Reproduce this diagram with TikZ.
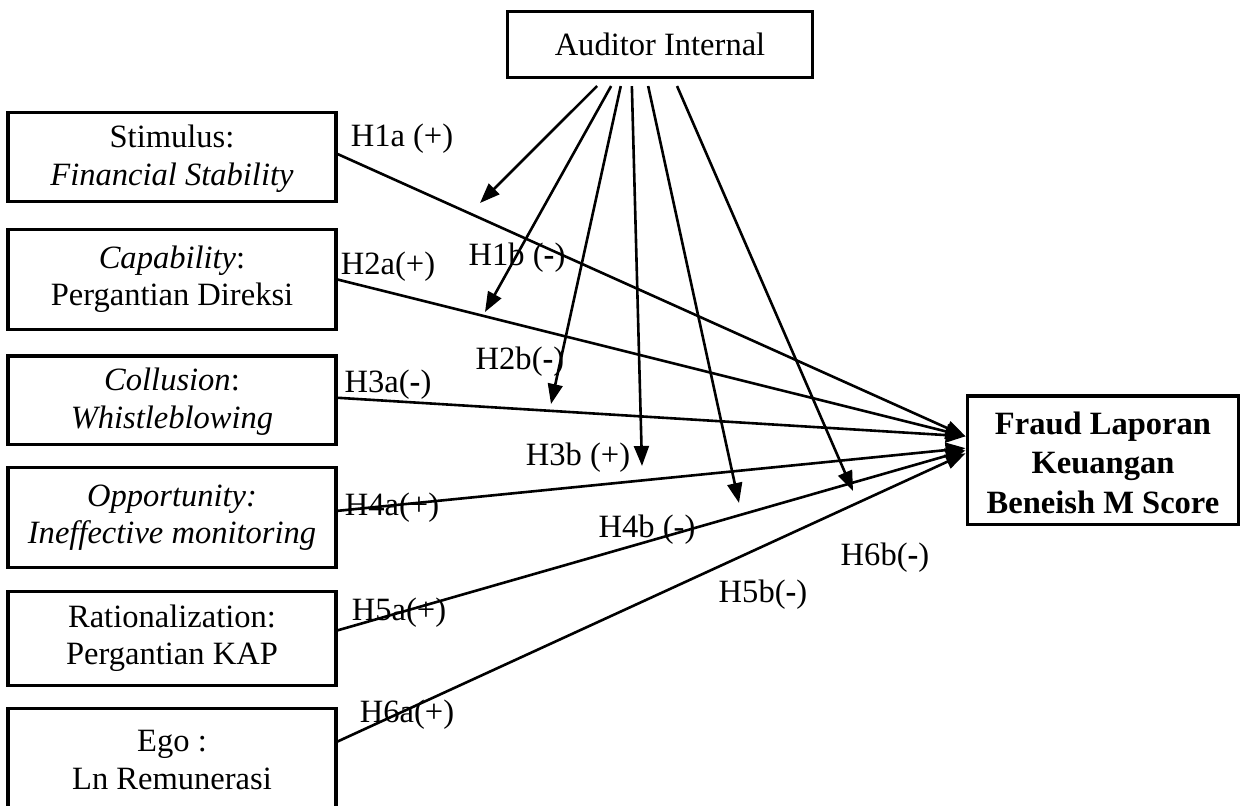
\documentclass[tikz,border=0pt]{standalone}
\usepackage{fontspec}
\setmainfont{Liberation Serif}
\usetikzlibrary{arrows.meta,positioning}

\begin{document}
\begin{tikzpicture}[
    x=0.0135cm, y=-0.0135cm,
    box/.style={draw, line width=1.2pt, minimum width=4.43cm, align=center, font=\fontsize{12.5}{14.3}\selectfont, inner sep=2pt},
    arr/.style={-{Triangle[length=0.27cm,width=0.2cm]}, line width=1pt},
    lbl/.style={font=\fontsize{12.5}{14}\selectfont, inner sep=0pt}
]
\useasboundingbox (0,0) rectangle (1241,806);

% variables
\node[box, minimum width=4.13cm, minimum height=0.88cm] (aud) at (660,44.5) {Auditor Internal};
\node[box, minimum height=1.19cm] (stim) at (172,157) {\strut Stimulus:\\\textit{Financial Stability}};
\node[box, minimum height=1.36cm] (capa) at (172,279.5) {\textit{Capability}:\\Pergantian Direksi};
\node[box, minimum height=1.19cm] (coll) at (172,400) {\strut\textit{Collusion}:\\\textit{Whistleblowing}};
\node[box, minimum height=1.34cm] (oppo) at (172,517.5) {\textit{Opportunity:}\\\textit{Ineffective monitoring}};
\node[box, minimum height=1.28cm] (rati) at (172,638.5) {Rationalization:\\Pergantian KAP};
\node[box, minimum height=1.40cm] (ego) at (172,760) {Ego :\\Ln Remunerasi};
\node[box, minimum width=3.67cm, minimum height=1.73cm, font=\fontsize{12.5}{15.2}\selectfont\bfseries] (fraud) at (1103,460) {\strut Fraud Laporan\\Keuangan\\Beneish M Score};

% direct effects
\draw[arr] ([yshift=0.04cm]stim.east) -- ([yshift=0.32cm]fraud.west);
\draw[arr] (capa.east) -- ([yshift=0.32cm]fraud.west);
\draw[arr] ([yshift=0.03cm]coll.east) -- ([yshift=0.32cm]fraud.west);
\draw[arr] ([yshift=0.09cm]oppo.east) -- ([yshift=0.16cm]fraud.west);
\draw[arr] ([yshift=0.11cm]rati.east) -- ([yshift=0.13cm]fraud.west);
\draw[arr] ([yshift=0.25cm]ego.east) -- ([yshift=0.09cm]fraud.west);

% moderation
\coordinate (m1) at (480,203);
\coordinate (m2) at (485,312);
\coordinate (m3) at (551,404);
\coordinate (m4) at (642,466);
\coordinate (m5) at (739,503);
\coordinate (m6) at (853,491);
\draw[arr] ([xshift=-0.85cm,yshift=-0.1cm]aud.south) -- (m1);
\draw[arr] ([xshift=-0.66cm,yshift=-0.1cm]aud.south) -- (m2);
\draw[arr] ([xshift=-0.53cm,yshift=-0.1cm]aud.south) -- (m3);
\draw[arr] ([xshift=-0.38cm,yshift=-0.1cm]aud.south) -- (m4);
\draw[arr] ([xshift=-0.16cm,yshift=-0.1cm]aud.south) -- (m5);
\draw[arr] ([xshift=0.23cm,yshift=-0.1cm]aud.south) -- (m6);

% hypotheses
\node[lbl] (h1a) at (402,139) {H1a (+)};
\node[lbl] (h2a) at (388,267) {H2a(+)};
\node[lbl] (h3a) at (388,385) {H3a(\textbf{-})};
\node[lbl] (h4a) at (392,508) {H4a(+)};
\node[lbl] (h5a) at (399,613) {H5a(+)};
\node[lbl] (h6a) at (407,715) {H6a(+)};
\node[lbl] (h1b) at (517,258) {H1b (\textbf{-})};
\node[lbl] (h2b) at (520,362) {H2b(\textbf{-})};
\node[lbl] (h3b) at (578,458) {H3b (+)};
\node[lbl] (h4b) at (647,530) {H4b (-)};
\node[lbl] (h5b) at (763,595) {H5b(\textbf{-})};
\node[lbl] (h6b) at (885,558) {H6b(\textbf{-})};
\end{tikzpicture}
\end{document}
